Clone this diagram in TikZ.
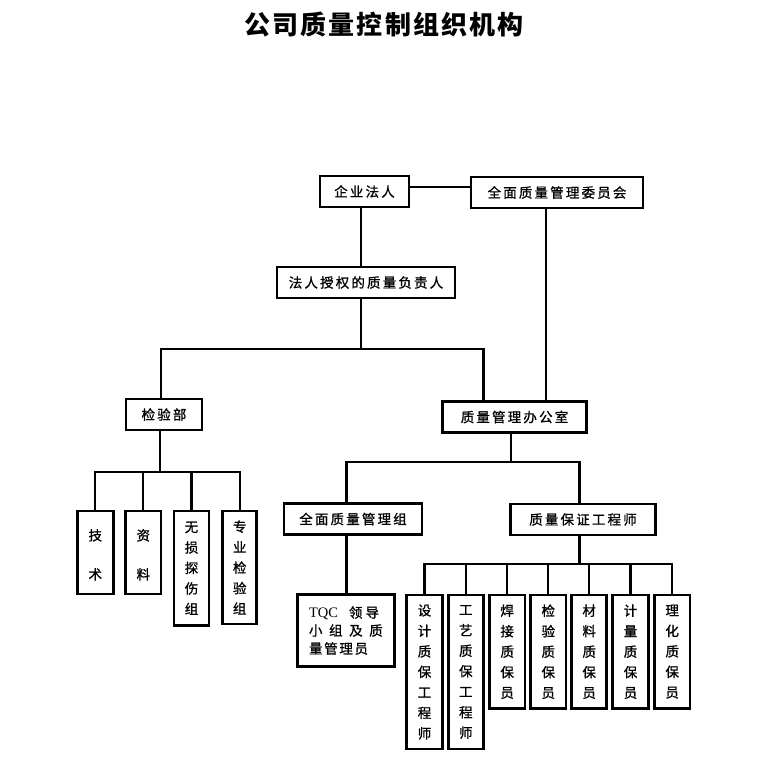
\documentclass[tikz,border=0pt]{standalone}
\usepackage{fontspec}
\setmainfont{Liberation Serif}
\newfontfamily\cjk{Noto Sans CJK SC}[LetterSpace=16,FakeBold=1]
\newfontfamily\cjkv{Noto Sans CJK SC}[FakeBold=1]
\newfontfamily\cjktitle{Noto Sans CJK SC}[LetterSpace=8]
\newfontfamily\lat{Liberation Serif}
\begin{document}
\begin{tikzpicture}[x=1pt,y=-1pt,
  box/.style={draw, line width=2.6pt, inner sep=0pt, minimum height=31pt, font=\cjk\fontsize{13.5}{16}\selectfont},
  vbox/.style={draw, line width=2.6pt, inner sep=0pt, align=center, font=\cjkv\fontsize{13.5}{20.5}\selectfont},
  conn/.style={line width=2.2pt}]
\useasboundingbox (0,0) rectangle (770,772);
\fill[white] (0,0) rectangle (770,772);
% title
\node (title) at (384,25) {\cjktitle\bfseries\fontsize{26}{30}\selectfont 公司质量控制组织机构};
% top level
\node[box, minimum width=89pt] (qy) at (364.5,191.5) {企业法人};
\node[box, minimum width=172pt] (wyh) at (557,192.5) {全面质量管理委员会};
\node[box, minimum width=178pt] (frsq) at (366,282.5) {法人授权的质量负责人};
\node[box, minimum width=76pt] (jyb) at (164,414.5) {检验部};
\node[box, minimum width=144pt] (bgs) at (514.5,417) {质量管理办公室};
\node[box, minimum width=138pt] (qmz) at (353,519) {全面质量管理组};
\node[box, minimum width=145pt] (zbs) at (583,519.5) {质量保证工程师};
% TQC
\node[draw, line width=2.6pt, inner sep=0pt, minimum width=97pt, minimum height=72pt, align=left,
  font=\cjkv\fontsize{13.5}{18}\selectfont] (tqc) at (346,630.5)
  {\makebox[74pt][l]{{\lat\fontsize{14.5}{18}\selectfont TQC}\hspace{11pt}领\hspace{3pt}导}\\\makebox[74pt][l]{小\hspace{6.6pt}组\hspace{6.6pt}及\hspace{6.6pt}质}\\\makebox[74pt][l]{量\hspace{1.7pt}管\hspace{1.7pt}理\hspace{1.7pt}员}};
% inspection sub boxes
\node[vbox, minimum width=36pt, minimum height=83pt] (t1) at (95.3,552.5) {\rule{0pt}{16pt}技\\[18.5pt]术};
\node[vbox, minimum width=35.3pt, minimum height=83pt] (t2) at (143.3,552.5) {\rule{0pt}{16pt}资\\[18.5pt]料};
\node[vbox, minimum width=35pt, minimum height=114.7pt] (t3) at (191.5,568.3) {无\\损\\探\\伤\\组};
\node[vbox, minimum width=34pt, minimum height=113pt] (t4) at (239.7,567.5) {专\\业\\检\\验\\组};
% QA sub boxes
\node[vbox, minimum width=35.6pt, minimum height=154pt] (s1) at (424.5,672) {设\\计\\质\\保\\工\\程\\师};
\node[vbox, minimum width=35pt, minimum height=154pt] (s2) at (465.8,672) {工\\艺\\质\\保\\工\\程\\师};
\node[vbox, minimum width=35.7pt, minimum height=113.3pt] (s3) at (507.2,651.7) {焊\\接\\质\\保\\员};
\node[vbox, minimum width=35.3pt, minimum height=113.3pt] (s4) at (548.3,651.7) {检\\验\\质\\保\\员};
\node[vbox, minimum width=35pt, minimum height=113.3pt] (s5) at (589.2,651.7) {材\\料\\质\\保\\员};
\node[vbox, minimum width=35.6pt, minimum height=113.3pt] (s6) at (630.5,651.7) {计\\量\\质\\保\\员};
\node[vbox, minimum width=35.7pt, minimum height=113.3pt] (s7) at (672.2,651.7) {理\\化\\质\\保\\员};
% junction coordinates
\coordinate (h0) at (440,187);
\coordinate (v0) at (546,300);
\coordinate (v1) at (361,230);
\coordinate (j1) at (361,349);
\coordinate (j1L) at (161,349);
\coordinate (j1R) at (483.5,349);
\coordinate (j2) at (511,462);
\coordinate (j2L) at (346.5,462);
\coordinate (j2R) at (579.5,462);
\coordinate (j3) at (579.5,564.3);
\coordinate (j4) at (160,471.7);
% connectors
\draw[conn] (qy.east |- h0) -- (wyh.west |- h0);
\draw[conn] (qy.south -| v1) -- (frsq.north -| v1);
\draw[conn] (wyh.south -| v0) -- (bgs.north -| v0);
\draw[conn] (frsq.south -| j1) -- (j1);
\draw[conn] (j1L |- jyb.north) -- (j1L) -- (j1R) -- (j1R |- bgs.north);
\draw[conn] (jyb.south -| j4) -- (j4);
\draw[conn] (t1.north) |- (j4) -| (t4.north);
\draw[conn] (t2.north) -- (t2.north |- j4);
\draw[conn] (t3.north) -- (t3.north |- j4);
\draw[conn] (bgs.south -| j2) -- (j2);
\draw[conn] (j2L |- qmz.north) -- (j2L) -- (j2R) -- (j2R |- zbs.north);
\draw[conn] (qmz.south -| j2L) -- (tqc.north -| j2L);
\draw[conn] (zbs.south -| j3) -- (j3);
\draw[conn] (s1.north) |- (j3) -| (s7.north);
\foreach \n in {s2,s3,s4,s5,s6} \draw[conn] (\n.north) -- (\n.north |- j3);
\end{tikzpicture}
\end{document}
